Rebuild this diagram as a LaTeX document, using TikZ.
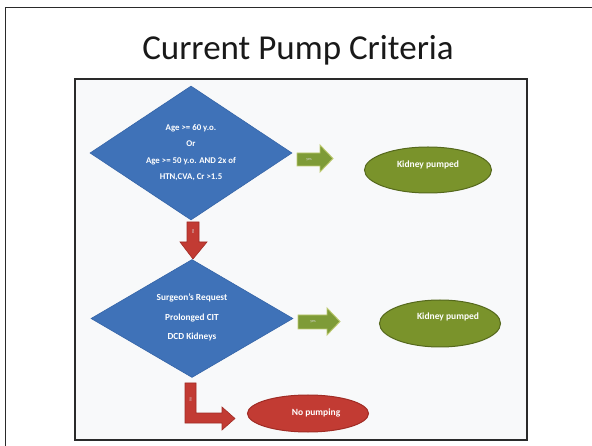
\documentclass[tikz,border=0pt]{standalone}
\usepackage{fontspec}
\setmainfont{Carlito}
\usetikzlibrary{shapes.geometric,calc}

\definecolor{framegray}{HTML}{2A2A2A}
\definecolor{panel}{HTML}{F8F9FA}
\definecolor{flowblue}{HTML}{3F72B8}
\definecolor{flowblueedge}{HTML}{3565A8}
\definecolor{ovalgreen}{HTML}{7A932B}
\definecolor{ovalgreenedge}{HTML}{55681C}
\definecolor{arrowgreen}{HTML}{7E9B37}
\definecolor{arrowgreenedge}{HTML}{BFCB72}
\definecolor{flowred}{HTML}{C23B33}
\definecolor{flowrededge}{HTML}{A02C25}

\tikzset{
  decision/.style={shape=diamond, aspect=1.5, inner sep=0pt, fill=flowblue,
    draw=flowblueedge, line width=0.6pt},
  dtext/.style={text=white, align=center, inner sep=0pt},
  goval/.style={ellipse, inner sep=0pt, fill=ovalgreen, draw=ovalgreenedge, line width=1pt},
  roval/.style={ellipse, inner sep=0pt, fill=flowred, draw=flowrededge, line width=1pt},
  otext/.style={text=white, inner sep=0pt, font=\fontsize{9.5}{11}\selectfont\bfseries},
  yesarrow/.style={fill=arrowgreen, draw=arrowgreenedge, line width=0.9pt, line join=miter},
  noarrow/.style={fill=flowred, draw=flowrededge, line width=0.6pt, line join=miter},
  tinylabel/.style={text=white!85!black, inner sep=0pt, font=\fontsize{4}{4}\selectfont},
  frameline/.style={draw=framegray, line width=1.4pt},
  panelline/.style={draw=framegray, line width=2.4pt}
}

\begin{document}
\begin{tikzpicture}[x=1pt,y=-1pt]
\useasboundingbox (0,0) rectangle (592,446);
\clip (0,0) rectangle (592,446);
\fill[white] (0,0) rectangle (592,446);

% slide frame (runs past the right and bottom edges)
\draw[frameline] (5.5,7.5) rectangle (640,480);

% title
\node[anchor=base, inner sep=0pt, text=black!90, font=\fontsize{35}{40}\selectfont] (title)
  at (298,60) {Current Pump Criteria};

% flowchart panel
\draw[panelline, fill=panel] (75,79) rectangle (527,440);

% decisions
\node[decision, minimum width=202pt, minimum height=134pt] (d1) at (191,153) {};
\node[dtext, font=\fontsize{8.8}{16.5}\selectfont\bfseries] (t1) at (191,152.5)
  {Age >= 60 y.o.\\Or\\Age >= 50 y.o. AND 2x of\\HTN,CVA, Cr >1.5};

\node[decision, minimum width=202pt, minimum height=118pt] (d2) at (192,318.5) {};
\node[dtext, font=\fontsize{9.3}{19.5}\selectfont\bfseries] (t2) at (192,317.5)
  {Surgeon's Request\\Prolonged CIT\\DCD Kidneys};

% outcomes
\node[goval, minimum width=127pt, minimum height=46pt] (o1) at (428,170) {};
\node[otext] (l1) at ($(o1)+(0,-5)$) {Kidney pumped};

\node[goval, minimum width=121pt, minimum height=47pt] (o2) at (440,323.5) {};
\node[otext] (l2) at ($(o2)+(8,-7)$) {Kidney pumped};

\node[roval, minimum width=121pt, minimum height=37pt] (o3) at (308,413.5) {};
\node[otext] (l3) at ($(o3)+(8,-1)$) {No pumping};

% yes arrows
\draw[yesarrow] (297,153) -- (320,153) -- (320,145) -- (333,158.5) -- (320,172)
  -- (320,166) -- (297,166) -- cycle;
\node[tinylabel] (y1) at (309,159.5) {yes};

\draw[yesarrow] (298,315) -- (327,315) -- (327,308) -- (340,321.5) -- (327,335)
  -- (327,329) -- (298,329) -- cycle;
\node[tinylabel] (y2) at (313,322) {yes};

% no arrows
\draw[noarrow] (187,222) -- (199,222) -- (199,242) -- (207,242) -- (193,259)
  -- (180,242) -- (187,242) -- cycle;
\node[tinylabel, rotate=-90] (n1) at (193,232) {no};

\draw[noarrow] (185,383) -- (196,383) -- (196,413) -- (222,413) -- (222,407)
  -- (235,418.5) -- (222,430) -- (222,423) -- (185,423) -- cycle;
\node[tinylabel, rotate=-90] (n2) at (190.5,400) {no};
\end{tikzpicture}
\end{document}
